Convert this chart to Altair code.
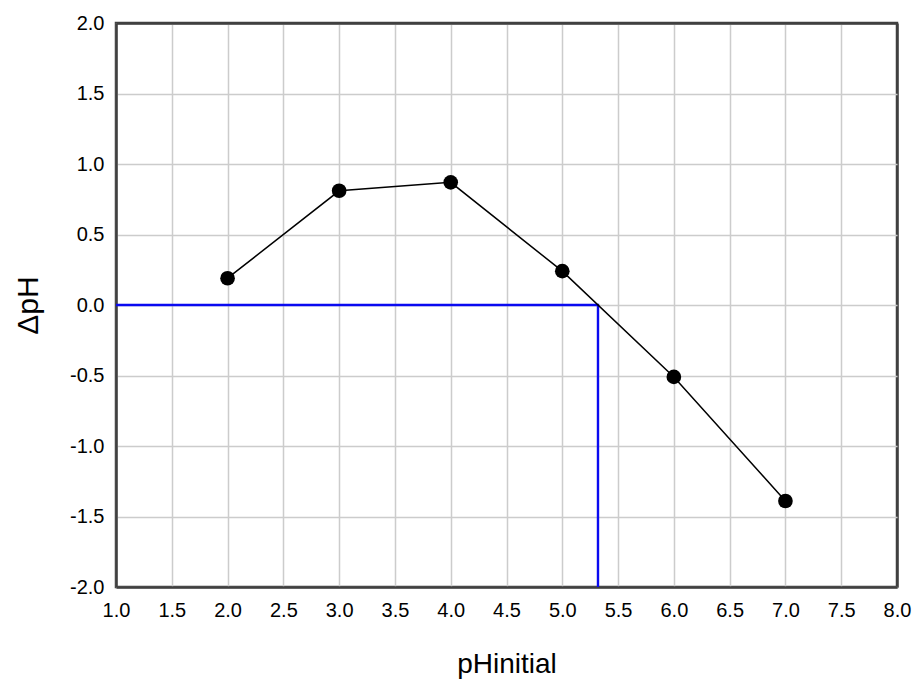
import altair as alt
import pandas as pd

ph_initial = [2.0, 3.0, 4.0, 5.0, 6.0, 7.0]
delta_ph = [0.19, 0.81, 0.87, 0.24, -0.51, -1.39]

guide_x = [1.0, 5.32, 5.32]
guide_y = [0.0, 0.0, -2.0]
guide_order = [0, 1, 2]

x_ticks = [1.0, 1.5, 2.0, 2.5, 3.0, 3.5, 4.0, 4.5, 5.0, 5.5, 6.0, 6.5, 7.0, 7.5, 8.0]
y_ticks = [-2.0, -1.5, -1.0, -0.5, 0.0, 0.5, 1.0, 1.5, 2.0]

df = pd.DataFrame({"x": ph_initial, "y": delta_ph})
gd = pd.DataFrame({"x": guide_x, "y": guide_y, "o": guide_order})

FONT = "Liberation Sans"
LABEL_EXPR = "(datum.value < 0 ? '-' : '') + format(abs(datum.value), '.1f')"
FRAME = "#404040"
GRID = "#cccccc"

common = dict(ticks=False, labelFontSize=20, labelFont=FONT, titleFont=FONT,
              labelColor="black", titleColor="black", titleFontWeight="normal",
              domainColor=FRAME, domainWidth=2.5,
              labelFlush=False, labelExpr=LABEL_EXPR)

xscale = alt.Scale(domain=[1.0, 8.0], nice=False, zero=False)
yscale = alt.Scale(domain=[-2.0, 2.0], nice=False, zero=False)

xaxis = alt.Axis(values=x_ticks, title="pHinitial", labelPadding=13, titlePadding=30, titleFontSize=28,
                 gridColor={"condition": {"test": "datum.value >= 8", "value": FRAME}, "value": GRID},
                 gridWidth={"condition": {"test": "datum.value >= 8", "value": 2.5}, "value": 1.5},
                 **common)
yaxis = alt.Axis(values=y_ticks, title="ΔpH", labelPadding=12, titlePadding=26, titleFontSize=30,
                 gridColor={"condition": {"test": "datum.value >= 2", "value": FRAME}, "value": GRID},
                 gridWidth={"condition": {"test": "datum.value >= 2", "value": 2.5}, "value": 1.5},
                 **common)

guide = alt.Chart(gd).mark_line(color="#0a0af0", strokeWidth=2.4).encode(
    x=alt.X("x:Q", scale=xscale, axis=xaxis),
    y=alt.Y("y:Q", scale=yscale, axis=yaxis),
    order="o:Q",
)

line = alt.Chart(df).mark_line(color="black", strokeWidth=1.5).encode(
    x=alt.X("x:Q", scale=xscale, axis=xaxis),
    y=alt.Y("y:Q", scale=yscale, axis=yaxis),
)

pts = alt.Chart(df).mark_circle(color="black", size=215, opacity=1).encode(
    x=alt.X("x:Q", scale=xscale, axis=xaxis),
    y=alt.Y("y:Q", scale=yscale, axis=yaxis),
)

chart = (guide + line + pts).properties(
    width=781, height=564,
    background="white",
    autosize=alt.AutoSizeParams(type="none"),
    padding={"left": 116, "top": 23, "right": 16, "bottom": 94},
).configure_view(stroke=FRAME, strokeWidth=2.5)

chart.save("out.html", embed_options={"renderer": "svg", "actions": False})
